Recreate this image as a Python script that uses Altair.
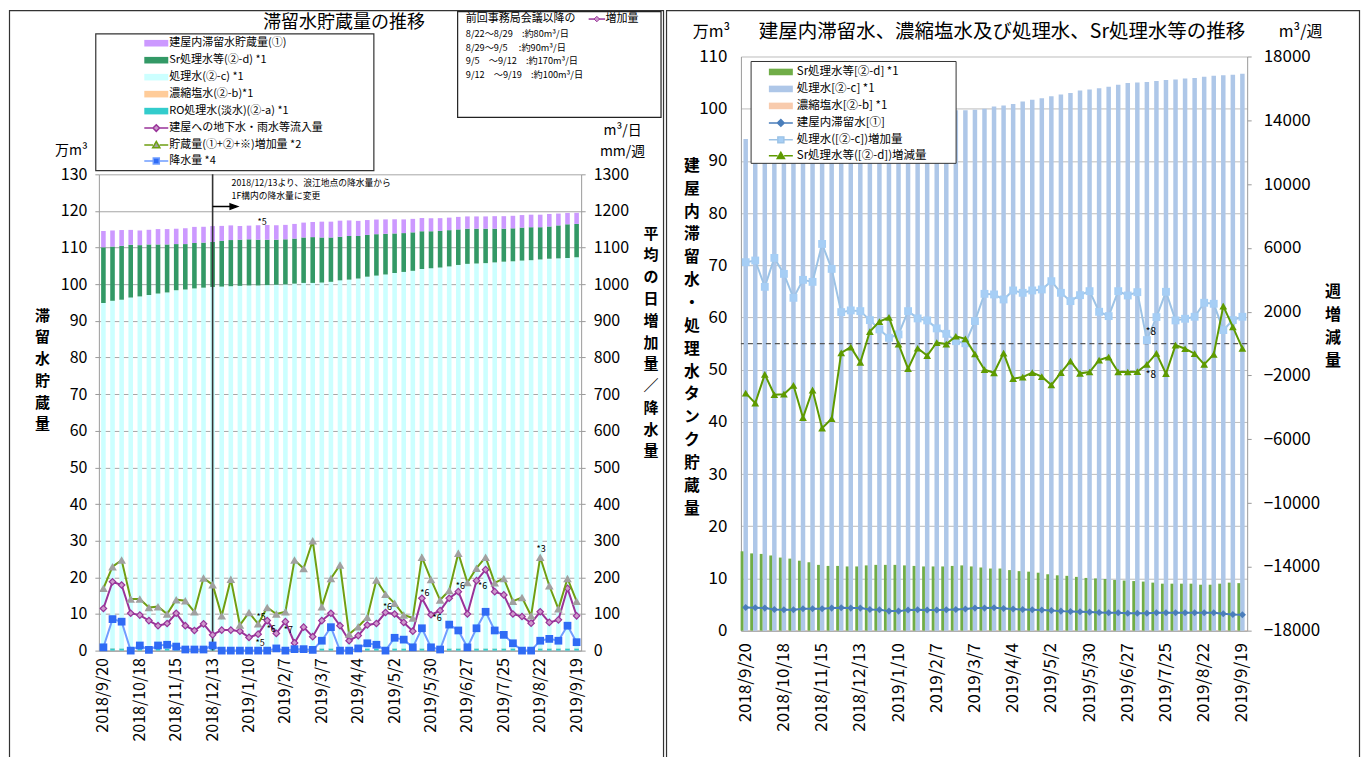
import altair as alt
import pandas as pd
from datetime import date, timedelta

FONT = "Noto Sans CJK JP"

# ---------------- categories ----------------
start = date(2018, 9, 20)
dates = []
for i in range(53):
    d = start + timedelta(days=7 * i)
    dates.append(f"{d.year}/{d.month}/{d.day}")
tick_dates = dates[::4]

# ---------------- stock (万m3) ----------------
treated = [94.2, 94.8, 95.1, 95.7, 96.0, 96.4, 96.8, 97.1, 97.7, 97.9,
           98.2, 98.4, 98.6, 98.7, 98.8, 98.9, 99.0, 99.0, 99.1, 99.2,
           99.3, 99.5, 99.7, 99.7, 99.8, 100.0, 100.4, 100.6, 100.9, 101.4,
           101.7, 102.0, 102.4, 102.7, 103.0, 103.5, 103.7, 103.9, 104.2, 104.6,
           104.9, 105.0, 105.1, 105.3, 105.5, 105.6, 105.8, 105.9, 106.1, 106.3,
           106.4, 106.5, 106.7]
sr = [15.2, 14.8, 14.7, 14.4, 14.0, 13.8, 13.4, 13.1, 12.6, 12.4,
      12.4, 12.3, 12.3, 12.5, 12.6, 12.6, 12.6, 12.5, 12.4, 12.3,
      12.3, 12.3, 12.4, 12.5, 12.3, 12.1, 11.9, 11.9, 11.6, 11.4,
      11.3, 11.1, 10.8, 10.6, 10.5, 10.3, 10.1, 10.0, 9.9, 9.7,
      9.6, 9.5, 9.4, 9.2, 9.0, 9.0, 9.0, 9.0, 8.8, 8.8,
      9.0, 9.2, 9.1]
building = [4.45, 4.39, 4.32, 4.06, 4.0, 4.0, 4.19, 4.19, 4.19, 4.32,
            4.39, 4.32, 4.32, 4.06, 4.0, 3.74, 3.74, 3.94, 4.0, 3.94,
            3.94, 4.0, 4.06, 4.13, 4.32, 4.32, 4.39, 4.26, 4.13, 4.06,
            4.0, 3.94, 3.87, 3.74, 3.68, 3.61, 3.55, 3.48, 3.42, 3.42,
            3.35, 3.35, 3.35, 3.42, 3.42, 3.42, 3.42, 3.42, 3.42, 3.42,
            3.23, 3.1, 3.03]
ro = [0.62, 0.62, 0.61, 0.61, 0.61, 0.60, 0.60, 0.60, 0.60, 0.60,
      0.60, 0.60, 0.60, 0.60, 0.60, 0.60, 0.60, 0.60, 0.60, 0.60,
      0.60, 0.60, 0.60, 0.60, 0.60, 0.60, 0.60, 0.60, 0.60, 0.60,
      0.60, 0.60, 0.60, 0.60, 0.60, 0.60, 0.60, 0.60, 0.60, 0.60,
      0.60, 0.60, 0.60, 0.60, 0.60, 0.60, 0.60, 0.60, 0.60, 0.60,
      0.60, 0.60, 0.60]
conc = [0.06, 0.06, 0.06, 0.06, 0.06, 0.06, 0.06, 0.06, 0.06, 0.06,
        0.06, 0.06, 0.06, 0.06, 0.06, 0.06, 0.06, 0.06, 0.06, 0.06,
        0.06, 0.06, 0.06, 0.06, 0.06, 0.06, 0.06, 0.06, 0.06, 0.06,
        0.06, 0.06, 0.06, 0.06, 0.06, 0.06, 0.06, 0.06, 0.06, 0.06,
        0.06, 0.06, 0.06, 0.06, 0.06, 0.06, 0.06, 0.06, 0.06, 0.06,
        0.06, 0.06, 0.06]

# ---------------- left chart lines (m3/日, mm/週) ----------------
inflow = [115, 188, 179, 102, 97, 82, 68, 74, 102, 68,
          55, 73, 43, 56, 56, 53, 36, 45, 82, 47,
          79, 21, 64, 38, 82, 102, 68, 27, 41, 70,
          74, 104, 100, 77, 53, 143, 98, 109, 143, 161,
          100, 191, 221, 161, 152, 100, 93, 75, 106, 77,
          84, 170, 95]
storage = [170, 229, 247, 141, 141, 118, 120, 100, 139, 136,
           106, 198, 180, 95, 195, 70, 104, 73, 118, 100,
           106, 247, 224, 300, 120, 197, 234, 45, 65, 91,
           193, 154, 129, 97, 89, 255, 194, 138, 164, 266,
           186, 225, 255, 185, 197, 135, 145, 95, 255, 177,
           114, 197, 135]
rain = [9, 86, 79, 0, 14, 2, 14, 16, 11, 3,
        3, 3, 14, 0, 0, 0, 0, 0, 0, 6,
        0, 4, 4, 2, 27, 64, 0, 0, 6, 20,
        16, 0, 35, 30, 9, 61, 9, 3, 71, 55,
        9, 61, 106, 55, 43, 20, 0, 0, 27, 32,
        27, 68, 23]

# ---------------- right chart lines (m3/週) ----------------
treated_inc = [5102, 5208, 3557, 5371, 4370, 2867, 3994, 3869, 6247, 4682,
               1972, 2078, 2035, 1471, 889, 363, 576, 2035, 1577, 1452,
               952, 613, 150, 20, 1409, 3118, 3080, 2765, 3330, 3182,
               3330, 3391, 3913, 3182, 2661, 3036, 3287, 1993, 1722, 3287,
               3015, 3224, 219, 1659, 3245, 1452, 1555, 1680, 2557, 2494,
               845, 1471, 1680]
sr_change = [-3109, -3731, -1931, -3208, -3175, -2618, -4648, -2913, -5302, -4713,
             -589, -229, -1178, 753, 1375, 1637, -33, -1571, -295, -753,
             65, -33, 458, 295, -654, -1637, -1833, -600, -2200, -2100,
             -1826, -2076, -2598, -1826, -1096, -1868, -1784, -1033, -845, -1784,
             -1784, -1763, -1304, -615, -1889, -94, -324, -636, -1304, -678,
             2348, 1049, -303]

# annotations: (category index, value, text, dx)
notes_left = [(17, 91, "*5", 3), (17, 21, "*5", 2), (18, 59, "*6", 4), (20, 55, "*7", 3),
              (31, 118, "*6", 2), (35, 157, "*6", 3), (37, 89, "*6", -3), (39, 177, "*6", 2),
              (42, 177, "*6", -3), (48, 278, "*3", 1)]
notes_right = [(42, 720, "*8", 4), (42, -1972, "*8", 4)]

legend_left = ["建屋内滞留水貯蔵量(①)", "Sr処理水等(②-d) *1", "処理水(②-c) *1",
               "濃縮塩水(②-b)*1", "RO処理水(淡水)(②-a) *1", "建屋への地下水・雨水等流入量",
               "貯蔵量(①+②+※)増加量  *2", "降水量 *4"]
legend_right = ["Sr処理水等[②-d] *1", "処理水[②-c] *1", "濃縮塩水[②-b] *1",
                "建屋内滞留水[①]", "処理水([②-c])増加量", "Sr処理水等([②-d])増減量"]

# ---------------- tables ----------------
ONE = pd.DataFrame({"k": [0]})
rows = []
for key, vals, o in [("ro", ro, 0), ("conc", conc, 1), ("treated", treated, 2),
                     ("sr", sr, 3), ("bldg", building, 4)]:
    for d, v in zip(dates, vals):
        rows.append({"date": d, "sL": key, "v": v, "o": o})
dfLb = pd.DataFrame(rows)
dfW = pd.DataFrame({"date": dates, "inflow": inflow, "storage": storage, "rain": rain,
                    "treated": treated, "sr": sr, "conc": conc, "bldg": building,
                    "tinc": treated_inc, "srchg": sr_change})


def ptxt(x, y, s, size=12, align="center", baseline="middle", color="black",
         weight="normal"):
    return alt.Chart(ONE).mark_text(font=FONT, fontSize=size, align=align, baseline=baseline,
                                    color=color, fontWeight=weight).encode(
        x=alt.value(x), y=alt.value(y), text=alt.value(s))


def prect(x, y, x2, y2, fill="transparent", stroke="#333333", sw=1.0):
    return alt.Chart(ONE).mark_rect(fill=fill, stroke=stroke, strokeWidth=sw).encode(
        x=alt.value(x), x2=alt.value(x2), y=alt.value(y), y2=alt.value(y2))


RECT = "M-1,-0.55H3V0.55H-1Z"
DIA = "M-1,0H0.5M1.5,0H3M0.45,0L1,-0.55L1.55,0L1,0.55Z"
TRI = "M-1,0H0.45M1.55,0H3M1,-0.6L1.6,0.45H0.4Z"
SQ = "M-1,0H0.5M1.5,0H3M0.5,-0.5H1.5V0.5H0.5Z"
ARROW = "M0,0H4.2M3.5,-0.55L5,0L3.5,0.55Z"

# =====================================================================
# LEFT PANEL  (plot origin = page (97.5, 55); data area y 118..595)
# =====================================================================
wL, hL = 483, 595
xsL = alt.Scale(domain=dates, paddingInner=0, paddingOuter=0)
xaxL = alt.Axis(values=tick_dates, labelAngle=270, labelFont=FONT, labelFontSize=16,
                labelColor="black", labelPadding=7, ticks=False, domainColor="#9a9a9a",
                grid=False, title=None, labelOverlap=False)


def XL():
    return alt.X("date:N", scale=xsL, axis=xaxL)


ysL = alt.Scale(domain=[0, 130], nice=False, range=[595, 118])
ysL2 = alt.Scale(domain=[0, 1300], nice=False, range=[595, 118])
ayL = alt.Axis(values=list(range(0, 131, 10)), grid=True, gridColor="#a6a6a6",
               domainColor="#9a9a9a", tickColor="#9a9a9a", tickSize=4,
               labelFont=FONT, labelFontSize=16, labelColor="black", labelPadding=8,
               title=list("滞留水貯蔵量"), titleAngle=0, titleX=-57, titleY=252,
               titleAlign="center", titleBaseline="top", titleFont=FONT, titleFontSize=15,
               titleLineHeight=21.8, titleFontWeight="bold", titleColor="black")
ayL2 = alt.Axis(orient="right", values=list(range(0, 1301, 100)), grid=False, format="d",
                domainColor="#9a9a9a", tickColor="#9a9a9a", tickSize=4,
                labelFont=FONT, labelFontSize=16, labelColor="black", labelPadding=8,
                title=list("平均の日増加量／降水量"), titleAngle=0, titleX=69.5, titleY=170,
                titleAlign="center", titleBaseline="top", titleFont=FONT, titleFontSize=15,
                titleLineHeight=21.8, titleFontWeight="bold", titleColor="black")


def YL(field):
    return alt.Y(f"{field}:Q", scale=ysL, axis=ayL)


def YL2(field):
    return alt.Y(f"{field}:Q", scale=ysL2, axis=ayL2)


barsL = alt.Chart(dfLb).mark_bar(size=4.6).encode(
    x=XL(),
    y=alt.Y("v:Q", stack="zero", scale=ysL, axis=ayL),
    color=alt.Color("sL:N", scale=alt.Scale(
        domain=["ro", "conc", "treated", "sr", "bldg"],
        range=["#33cccc", "#ffcc99", "#ccffff", "#339966", "#cc99ff"]), legend=None),
    order=alt.Order("o:Q", sort="ascending"),
)
barNote = alt.Chart(pd.DataFrame({"date": [dates[17]], "y": [116.9], "t": ["*5"]})).mark_text(
    font=FONT, fontSize=9, dx=4).encode(x=XL(), y=YL("y"), text="t:N")
groupBarsL = alt.layer(barsL, barNote)


def lineL(field, color):
    return alt.Chart(dfW).mark_line(color=color, strokeWidth=2).encode(x=XL(), y=YL2(field))


def ptsL(field, **kw):
    return alt.Chart(dfW).mark_point(opacity=1, **kw).encode(x=XL(), y=YL2(field))


vline = alt.Chart(pd.DataFrame({"date": [dates[12]], "top": [1300], "bot": [0]})).mark_rule(
    color="#333333", strokeWidth=1.6).encode(x=XL(), y=YL2("top"), y2="bot:Q")
arrow = alt.Chart(pd.DataFrame({"date": [dates[12]], "y": [1212]})).mark_point(
    shape=ARROW, size=100, filled=True, color="black", stroke="black", strokeWidth=1.4,
    opacity=1).encode(x=XL(), y=YL2("y"))
noteTop = alt.Chart(pd.DataFrame({"date": [dates[12]], "y": [1276],
                                  "t": ["2018/12/13より、浪江地点の降水量から\n1F構内の降水量に変更"]})).mark_text(
    font=FONT, fontSize=8.8, align="left", baseline="middle", dx=19, lineBreak="\n",
    lineHeight=13).encode(x=XL(), y=YL2("y"), text="t:N")
dfNL = pd.DataFrame({"date": [dates[i] for i, _, _, _ in notes_left],
                     "y": [v for _, v, _, _ in notes_left],
                     "t": [t for _, _, t, _ in notes_left],
                     "dx": [d for _, _, _, d in notes_left]})
notesL = [alt.Chart(dfNL.iloc[[k]]).mark_text(font=FONT, fontSize=9,
                                              dx=float(dfNL.dx.iloc[k])).encode(
    x=XL(), y=YL2("y"), text="t:N") for k in range(len(dfNL))]

groupLinesL = alt.layer(
    vline, arrow, noteTop,
    lineL("inflow", "#993399"),
    ptsL("inflow", shape="diamond", filled=True, fill="#cc99cc", stroke="#993399",
         strokeWidth=1.2, size=42),
    lineL("storage", "#6f9f12"),
    ptsL("storage", shape="triangle-up", filled=True, fill="#a0a0a0", size=75),
    lineL("rain", "#6f9dff"),
    ptsL("rain", shape="square", filled=True, fill="#2f6bf5", size=60),
    *notesL,
)

legL = alt.Legend(orient="none", legendX=44.5, legendY=-20.3, direction="vertical", title=None,
                  symbolSize=144, symbolStrokeWidth=1.5, labelFont=FONT, labelFontSize=11,
                  labelColor="black", labelOffset=12, labelLimit=400, rowPadding=3, padding=0)
dummyL = alt.Chart(pd.DataFrame({"lgL": legend_left})).transform_filter("false").mark_point(
    opacity=1, strokeWidth=1.5).encode(
    shape=alt.Shape("lgL:N", scale=alt.Scale(domain=legend_left,
                                             range=[RECT] * 5 + [DIA, TRI, SQ]), legend=legL),
    fill=alt.Fill("lgL:N", scale=alt.Scale(domain=legend_left, range=[
        "#cc99ff", "#339966", "#ccffff", "#ffcc99", "#33cccc", "#cc99cc", "#a0a0a0", "#2f6bf5"]),
        legend=legL),
    stroke=alt.Stroke("lgL:N", scale=alt.Scale(domain=legend_left, range=[
        "transparent"] * 5 + ["#993399", "#6f9f12", "#6f9dff"]), legend=legL),
)

info_lines = ["8/22〜8/29　:約80m³/日", "8/29〜9/5　  :約90m³/日",
              "9/5　〜9/12　:約170m³/日", "9/12　〜9/19　:約100m³/日"]
miscL = [
    prect(-89.5, -46, 565.5, 715, stroke="#333333", sw=1.2),
    prect(-3.1, -22.7, 275.4, 114.3, stroke="#333333", sw=1.2),
    prect(359.3, -45, 563, 61, stroke="#222222", sw=1.2),
    ptxt(245.5, -33.3, "滞留水貯蔵量の推移", size=18),
    ptxt(-27.5, 95, "万m³", size=14),
    ptxt(524.5, 75, "m³/日", size=14),
    ptxt(524.5, 96, "mm/週", size=14),
    ptxt(367.5, -37.5, "前回事務局会議以降の", size=11, align="left"),
    alt.Chart(ONE).mark_rule(color="#993399", strokeWidth=1.5).encode(
        x=alt.value(490.5), x2=alt.value(507), y=alt.value(-37.5)),
    alt.Chart(ONE).mark_point(shape="diamond", filled=True, fill="#cc99cc", stroke="#993399",
                              strokeWidth=1, size=30, opacity=1).encode(
        x=alt.value(498.7), y=alt.value(-37.5)),
    ptxt(507.5, -37.5, "増加量", size=11, align="left"),
]
for k, s in enumerate(info_lines):
    miscL.append(ptxt(367.5, -22.5 + k * 13.6, s, size=9.2, align="left"))

left = alt.layer(groupBarsL, groupLinesL, dummyL, *miscL).resolve_scale(
    y="independent").properties(width=wL, height=hL)

# =====================================================================
# RIGHT PANEL  (plot origin = page (737.5, 55))
# =====================================================================
wR, hR = 507, 575
xsR = alt.Scale(domain=dates, paddingInner=0, paddingOuter=0)
xaxR = alt.Axis(values=tick_dates, labelAngle=270, labelFont=FONT, labelFontSize=17,
                labelColor="black", labelPadding=12, ticks=False, domainColor="#9a9a9a",
                grid=False, title=None, labelOverlap=False)


def XR():
    return alt.X("date:N", scale=xsR, axis=xaxR)


ysR = alt.Scale(domain=[0, 110], nice=False)
ysR2 = alt.Scale(domain=[-18000, 18000], nice=False, zero=False)
ayR = alt.Axis(values=list(range(0, 111, 10)), grid=True, gridColor="#bcbcbc",
               domainColor="#9a9a9a", ticks=False, labelFont=FONT, labelFontSize=17,
               labelColor="black", labelPadding=14,
               title=list("建屋内滞留水・処理水タンク貯蔵量"), titleAngle=0, titleX=-49.5,
               titleY=102, titleAlign="center", titleBaseline="top", titleFont=FONT,
               titleFontSize=15.8, titleLineHeight=22.9, titleFontWeight="bold",
               titleColor="black")
ayR2 = alt.Axis(orient="right", values=list(range(-18000, 18001, 4000)), grid=False,
                format="d", domainColor="#9a9a9a", tickColor="#9a9a9a", tickSize=4,
                labelFont=FONT, labelFontSize=17, labelColor="black", labelPadding=12,
                title=list("週増減量"), titleAngle=0, titleX=85.5, titleY=227,
                titleAlign="center", titleBaseline="top", titleFont=FONT, titleFontSize=16,
                titleLineHeight=23.3, titleFontWeight="bold", titleColor="black")


def YR(field):
    return alt.Y(f"{field}:Q", scale=ysR, axis=ayR)


def YR2(field):
    return alt.Y(f"{field}:Q", scale=ysR2, axis=ayR2)


trBar = alt.Chart(dfW).mark_bar(size=4.5, color="#aec7e8").encode(x=XR(), y=YR("treated"))
srBar = alt.Chart(dfW).mark_bar(size=2.8, xOffset=-3.65, color="#70ad47").encode(
    x=XR(), y=YR("sr"))
cnBar = alt.Chart(dfW).mark_bar(size=2.8, xOffset=3.65, color="#f8cbad").encode(
    x=XR(), y=YR("conc"))
bLine = alt.Chart(dfW).mark_line(color="#4a7ebb", strokeWidth=2).encode(x=XR(), y=YR("bldg"))
bPts = alt.Chart(dfW).mark_point(shape="diamond", filled=True, fill="#4a7ebb", size=50,
                                 opacity=1).encode(x=XR(), y=YR("bldg"))
groupBarsR = alt.layer(trBar, srBar, cnBar, bLine, bPts)

zeroRule = alt.Chart(pd.DataFrame({"z": [0]})).mark_rule(
    color="#555555", strokeWidth=1.3, strokeDash=[5, 4]).encode(y=YR2("z"))
tLine = alt.Chart(dfW).mark_line(color="#9dc3e6", strokeWidth=2).encode(x=XR(), y=YR2("tinc"))
tPts = alt.Chart(dfW).mark_point(shape="square", filled=True, fill="#a6cef5", size=62,
                                 opacity=1).encode(x=XR(), y=YR2("tinc"))
sLine = alt.Chart(dfW).mark_line(color="#5e9a00", strokeWidth=2).encode(x=XR(), y=YR2("srchg"))
sPts = alt.Chart(dfW).mark_point(shape="triangle-up", filled=True, fill="#5e9a00", size=60,
                                 opacity=1).encode(x=XR(), y=YR2("srchg"))
dfNR = pd.DataFrame({"date": [dates[i] for i, _, _, _ in notes_right],
                     "y": [v for _, v, _, _ in notes_right],
                     "t": [t for _, _, t, _ in notes_right]})
notesR = alt.Chart(dfNR).mark_text(font=FONT, fontSize=10, dx=4).encode(
    x=XR(), y=YR2("y"), text="t:N")
groupLinesR = alt.layer(zeroRule, tLine, tPts, sLine, sPts, notesR)

legR = alt.Legend(orient="none", legendX=27, legendY=8.5, direction="vertical", title=None,
                  symbolSize=144, symbolStrokeWidth=1.5, labelFont=FONT, labelFontSize=11.5,
                  labelColor="black", labelOffset=15, labelLimit=400, rowPadding=3, padding=0)
dummyR = alt.Chart(pd.DataFrame({"lgR": legend_right})).transform_filter("false").mark_point(
    opacity=1, strokeWidth=1.5).encode(
    shape=alt.Shape("lgR:N", scale=alt.Scale(domain=legend_right,
                                             range=[RECT] * 3 + [DIA, SQ, TRI]), legend=legR),
    fill=alt.Fill("lgR:N", scale=alt.Scale(domain=legend_right, range=[
        "#70ad47", "#aec7e8", "#f8cbad", "#4a7ebb", "#a6cef5", "#5e9a00"]), legend=legR),
    stroke=alt.Stroke("lgR:N", scale=alt.Scale(domain=legend_right, range=[
        "transparent"] * 3 + ["#4a7ebb", "#9dc3e6", "#5e9a00"]), legend=legR),
)

miscR = [
    prect(-74.5, -46, 619.5, 715, stroke="#333333", sw=1.2),
    prect(10.2, 5, 215.5, 107, fill="white", stroke="#333333", sw=1.0),
    ptxt(261.5, -25, "建屋内滞留水、濃縮塩水及び処理水、Sr処理水等の推移", size=19.5),
    ptxt(-29.5, -25, "万m³", size=16),
    ptxt(560.5, -25, "m³/週", size=16),
]

right = alt.layer(groupBarsR, groupLinesR, *miscR, dummyR).resolve_scale(
    y="independent").properties(width=wR, height=hR)

chart = alt.hconcat(left, right, spacing=0).resolve_scale(
    x="independent", y="independent", color="independent", fill="independent",
    stroke="independent", shape="independent"
).properties(
    padding={"left": 0, "top": 1, "right": 0, "bottom": 0}
).configure_view(strokeWidth=0)

chart.save("out.html", embed_options={"renderer": "svg", "actions": False})
